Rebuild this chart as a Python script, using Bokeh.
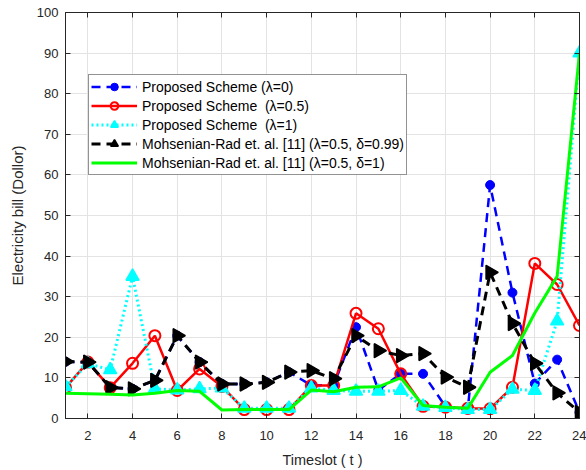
import math
from bokeh.plotting import figure
from bokeh.models import Range1d, FixedTicker, LinearAxis, Legend, LegendItem
from bokeh.embed import file_html
from bokeh.resources import INLINE

timeslots = list(range(1, 25))
x_ticks = list(range(2, 25, 2))
y_ticks = list(range(0, 101, 10))

bill_lambda0 = [14.0, 13.8, 7.6, 7.3, 9.4, 20.4, 13.9, 8.5, 8.5, 8.9, 11.4, 8.2,
                8.2, 22.5, 7.0, 11.0, 11.0, 3.0, 2.2, 57.5, 31.0, 8.6, 14.5, 1.5]
bill_lambda05 = [7.6, 13.9, 7.6, 13.6, 20.4, 6.9, 12.2, 7.9, 2.2, 2.2, 2.2, 8.1,
                 8.1, 25.9, 22.1, 11.0, 3.0, 2.8, 2.5, 2.4, 7.7, 38.2, 33.0, 22.9]
bill_lambda1 = [7.8, 13.5, 12.0, 35.0, 7.3, 7.0, 7.3, 7.5, 2.5, 2.5, 2.5, 7.5,
                6.9, 6.7, 6.7, 6.9, 3.0, 2.7, 2.2, 2.2, 7.2, 6.9, 24.0, 90.0]
bill_mr_099 = [14.0, 13.9, 7.6, 7.3, 9.4, 20.4, 13.9, 8.5, 8.5, 8.9, 11.4, 11.8,
               9.8, 20.4, 16.7, 15.5, 16.0, 10.2, 7.7, 36.0, 23.4, 13.6, 6.3, 1.5]
bill_mr_1 = [6.2, 6.1, 6.0, 5.8, 6.2, 6.9, 6.7, 2.1, 2.2, 2.2, 2.2, 7.0,
             6.6, 7.7, 7.8, 10.0, 3.2, 2.8, 2.5, 11.4, 15.5, 26.0, 35.0, 90.0]

FONT = "Liberation Sans"
DARK = "#262626"

p = figure(width=586, height=470, output_backend="svg", toolbar_location=None,
           x_range=Range1d(1, 24), y_range=Range1d(0, 100),
           min_border_left=65, min_border_right=7, min_border_top=12, min_border_bottom=52)
p.outline_line_color = DARK
p.outline_line_width = 1
p.background_fill_color = "white"

p.xaxis.ticker = FixedTicker(ticks=x_ticks)
p.yaxis.ticker = FixedTicker(ticks=y_ticks)
p.xgrid.ticker = FixedTicker(ticks=x_ticks)
p.ygrid.ticker = FixedTicker(ticks=y_ticks)
p.grid.grid_line_color = "#e3e3e3"
p.grid.grid_line_width = 1

for ax in (p.xaxis[0], p.yaxis[0]):
    ax.axis_line_color = DARK
    ax.major_tick_line_color = DARK
    ax.major_tick_in = 5
    ax.major_tick_out = 0
    ax.minor_tick_line_color = None
    ax.major_label_text_font = FONT
    ax.major_label_text_font_size = "13px"
    ax.major_label_text_color = DARK
    ax.axis_label_text_font = FONT
    ax.axis_label_text_font_style = "normal"
    ax.axis_label_text_color = DARK

p.xaxis.axis_label = "Timeslot ( t )"
p.yaxis.axis_label = "Electricity bill (Dollor)"
p.xaxis.axis_label_text_font_size = "14.5px"
p.yaxis.axis_label_text_font_size = "15px"
p.xaxis.major_label_standoff = 12
p.xaxis.axis_label_standoff = 9
p.yaxis.major_label_standoff = 7
p.yaxis.axis_label_standoff = 8

# blue: lambda = 0
b_line = p.line(timeslots, bill_lambda0, line_color="#0000ff", line_width=2.5, line_dash="9 6")
b_mark = p.scatter(timeslots, bill_lambda0, marker="circle", size=9,
                   fill_color="#0000ff", line_color="#0000ff")
# red: lambda = 0.5
r_line = p.line(timeslots, bill_lambda05, line_color="#ff0000", line_width=2.5)
r_mark = p.scatter(timeslots, bill_lambda05, marker="circle", size=11,
                   fill_color=None, line_color="#ff0000", line_width=2)
# cyan: lambda = 1
c_line = p.line(timeslots, bill_lambda1, line_color="#00ffff", line_width=3, line_dash="2 3")
c_mark = p.scatter(timeslots, bill_lambda1, marker="triangle", size=13,
                   fill_color="#00ffff", line_color="#00ffff", line_width=1.5)
# black: Mohsenian-Rad delta = 0.99
k_line = p.line(timeslots, bill_mr_099, line_color="black", line_width=3, line_dash="9 6")
k_mark = p.scatter(timeslots, bill_mr_099, marker="triangle", size=14, angle=-math.pi / 2,
                   fill_color="black", line_color="black", line_width=1.5)
# green: Mohsenian-Rad delta = 1
g_line = p.line(timeslots, bill_mr_1, line_color="#00ff00", line_width=3)

legend = Legend(items=[
    LegendItem(label="Proposed Scheme (λ=0)", renderers=[b_line, b_mark]),
    LegendItem(label="Proposed Scheme  (λ=0.5)", renderers=[r_line, r_mark]),
    LegendItem(label="Proposed Scheme  (λ=1)", renderers=[c_line, c_mark]),
    LegendItem(label="Mohsenian-Rad et. al. [11] (λ=0.5, δ=0.99)", renderers=[k_line, k_mark]),
    LegendItem(label="Mohsenian-Rad et. al. [11] (λ=0.5, δ=1)", renderers=[g_line]),
])
legend.location = (23, 243)
legend.label_text_font = FONT
legend.label_text_font_size = "14px"
legend.label_text_color = "black"
legend.glyph_width = 46
legend.glyph_height = 19
legend.label_height = 19
legend.label_standoff = 5
legend.spacing = 0
legend.padding = 2
legend.margin = 0
legend.border_line_color = DARK
legend.border_line_width = 1
legend.background_fill_alpha = 1
p.add_layout(legend)

# box ticks on top and right (no labels)
top_ax = LinearAxis(ticker=FixedTicker(ticks=x_ticks),
                    major_label_overrides={t: "" for t in x_ticks},
                    major_tick_in=5, major_tick_out=0, minor_tick_line_color=None,
                    axis_line_color=DARK, major_tick_line_color=DARK, major_label_standoff=0)
right_ax = LinearAxis(ticker=FixedTicker(ticks=y_ticks),
                      major_label_overrides={t: "" for t in y_ticks},
                      major_tick_in=5, major_tick_out=0, minor_tick_line_color=None,
                      axis_line_color=DARK, major_tick_line_color=DARK, major_label_standoff=0)
p.add_layout(top_ax, "above")
p.add_layout(right_ax, "right")

open("out.html", "w").write(file_html(p, INLINE))
